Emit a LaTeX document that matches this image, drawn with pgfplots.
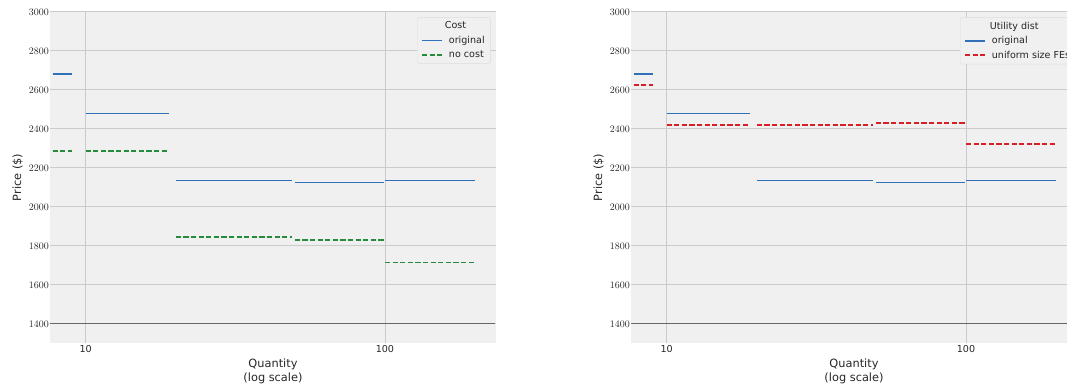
\documentclass[border=0pt]{standalone}
\usepackage{fontspec}
\setmainfont{DejaVu Sans}
\usepackage{pgfplots}
\pgfplotsset{compat=1.18}
\definecolor{cblue}{RGB}{48,112,184}
\definecolor{cgreen}{RGB}{38,140,60}
\definecolor{cred}{RGB}{214,32,40}
\definecolor{bg}{HTML}{F0F0F0}
\definecolor{gridc}{HTML}{CBCBCB}
\definecolor{lgd}{HTML}{DDDDDD}
\definecolor{txt}{HTML}{262626}
\tikzset{dsh/.style={dash pattern=on 5.2bp off 2.4bp}}
\pgfplotsset{
  legend image code/.code={\draw[#1] (0bp,0bp) -- (19.5bp,0bp); \path (24bp,0bp);},
  every axis plot/.append style={line width=1.7bp, line cap=butt},
  /pgf/number format/set thousands separator={},
}
\begin{document}
\begin{tikzpicture}[x=1bp,y=1bp]
\begin{axis}[at={(50bp,41.7bp)}, anchor=south west,
    scale only axis, width=446bp, height=331.5bp,
    xmode=log, log basis x=10,
    xmin=7.6, xmax=235, ymin=1300, ymax=3000,
    xtick={10,100}, xticklabels={10,100}, minor xtick={},
    ytick={1400,1600,...,3000},
    axis background/.style={fill=bg},
    axis line style={draw=none},
    tick style={draw=none},
    grid=major, major grid style={draw=gridc, line width=0.9bp},
    ticklabel style={font=\fontsize{9.6}{11}\selectfont, text=txt},
    yticklabel style={inner sep=1bp},
    xticklabel style={inner sep=1bp, yshift=-1bp},
    label style={font=\fontsize{11.4}{14}\selectfont, text=txt},
    xlabel={Quantity\\(log scale)},
    xlabel style={align=center, yshift=-1.5bp},
    ylabel={Price (\$)},
    ylabel style={yshift=1.5bp},
    legend cell align=left,
    legend style={at={(rel axis cs:0.823,0.984)}, anchor=north west, fill=bg, draw=lgd, rounded corners=2bp,
      font=\fontsize{9.6}{11}\selectfont, text=txt, row sep=1.8bp, inner xsep=4bp, inner ysep=2.5bp},
    clip=false]
\addlegendimage{empty legend}\addlegendentry{\hspace{-4bp}Cost}
\addlegendimage{draw=cblue, line width=1.7bp}\addlegendentry{original}
\addlegendimage{draw=cgreen, line width=1.7bp, dsh}\addlegendentry{no cost}
\addplot[draw=black!60, line width=1.3bp, forget plot] coordinates {(7.6,1400) (233,1400)};
\addplot[draw=cblue, forget plot] coordinates {(7.75,2680) (9,2680)};
\addplot[draw=cblue, forget plot] coordinates {(10,2478) (19,2478)};
\addplot[draw=cblue, forget plot] coordinates {(20,2135) (49,2135)};
\addplot[draw=cblue, forget plot] coordinates {(50,2125) (99,2125)};
\addplot[draw=cblue, forget plot] coordinates {(100,2135) (200,2135)};
\addplot[draw=cgreen, dsh, forget plot] coordinates {(7.75,2287) (9,2287)};
\addplot[draw=cgreen, dsh, forget plot] coordinates {(10,2287) (19,2287)};
\addplot[draw=cgreen, dsh, forget plot] coordinates {(20,1844) (49,1844)};
\addplot[draw=cgreen, dsh, forget plot] coordinates {(50,1828) (99,1828)};
\addplot[draw=cgreen, dsh, forget plot] coordinates {(100,1715) (200,1715)};
\end{axis}
\begin{axis}[at={(631bp,41.7bp)}, anchor=south west,
    scale only axis, width=446bp, height=331.5bp,
    xmode=log, log basis x=10,
    xmin=7.6, xmax=235, ymin=1300, ymax=3000,
    xtick={10,100}, xticklabels={10,100}, minor xtick={},
    ytick={1400,1600,...,3000},
    axis background/.style={fill=bg},
    axis line style={draw=none},
    tick style={draw=none},
    grid=major, major grid style={draw=gridc, line width=0.9bp},
    ticklabel style={font=\fontsize{9.6}{11}\selectfont, text=txt},
    yticklabel style={inner sep=1bp},
    xticklabel style={inner sep=1bp, yshift=-1bp},
    label style={font=\fontsize{11.4}{14}\selectfont, text=txt},
    xlabel={Quantity\\(log scale)},
    xlabel style={align=center, yshift=-1.5bp},
    ylabel={Price (\$)},
    ylabel style={yshift=1.5bp},
    legend cell align=left,
    legend style={at={(rel axis cs:0.7377,0.984)}, anchor=north west, fill=bg, draw=lgd, rounded corners=2bp,
      font=\fontsize{9.6}{11}\selectfont, text=txt, row sep=1.8bp, inner xsep=4bp, inner ysep=2.5bp},
    clip=false]
\addlegendimage{empty legend}\addlegendentry{\hspace{-2bp}Utility dist}
\addlegendimage{draw=cblue, line width=1.7bp}\addlegendentry{original}
\addlegendimage{draw=cred, line width=1.7bp, dsh}\addlegendentry{uniform size FEs}
\addplot[draw=black!60, line width=1.3bp, forget plot] coordinates {(7.6,1400) (233,1400)};
\addplot[draw=cblue, forget plot] coordinates {(7.75,2680) (9,2680)};
\addplot[draw=cblue, forget plot] coordinates {(10,2479) (19,2479)};
\addplot[draw=cblue, forget plot] coordinates {(20,2135) (49,2135)};
\addplot[draw=cblue, forget plot] coordinates {(50,2125) (99,2125)};
\addplot[draw=cblue, forget plot] coordinates {(100,2135) (200,2135)};
\addplot[draw=cred, dsh, forget plot] coordinates {(7.75,2626) (9,2626)};
\addplot[draw=cred, dsh, forget plot] coordinates {(10,2419) (19,2419)};
\addplot[draw=cred, dsh, forget plot] coordinates {(20,2419) (49,2419)};
\addplot[draw=cred, dsh, forget plot] coordinates {(50,2431) (99,2431)};
\addplot[draw=cred, dsh, forget plot] coordinates {(100,2322) (200,2322)};
\end{axis}
\pgfresetboundingbox
\path[use as bounding box] (0,0) rectangle (1067bp,385bp);
\end{tikzpicture}
\end{document}
